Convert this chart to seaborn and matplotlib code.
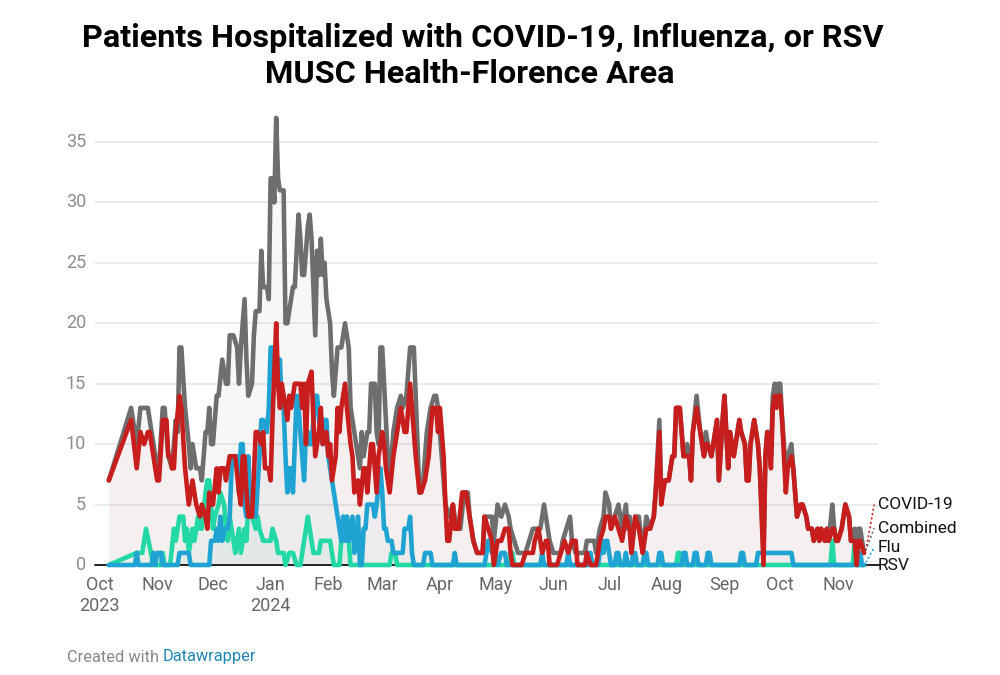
import numpy as np
import pandas as pd
import matplotlib
matplotlib.use("Agg")
import matplotlib.pyplot as plt
import seaborn as sns

# ---------------- data (day offset from 2023-10-01, value) ----------------
START = pd.Timestamp("2023-10-01")

combined_days = [5, 17, 20, 22, 26, 28, 30, 32, 34, 35, 37, 39, 41, 42, 43, 44, 46, 48, 49, 50, 52, 54, 55, 57, 58, 59,
                 60, 61, 63, 64, 66, 68, 69, 70, 72, 74, 75, 76, 78, 79, 80, 82, 83, 84, 86, 87, 88, 90, 91, 92, 93, 94,
                 95, 96, 97, 99, 100, 101, 102, 104, 105, 106, 107, 108, 109, 110, 112, 113, 114, 116, 117, 118, 119, 120,
                 121, 122, 124, 125, 126, 128, 130, 132, 133, 134, 135, 136, 138, 140, 141, 142, 144, 145, 146, 148, 149,
                 150, 151, 152, 154, 155, 156, 158, 160, 162, 163, 165, 167, 169, 170, 172, 174, 176, 178, 180, 181, 182,
                 184, 186, 188, 190, 192, 194, 196, 198, 199, 201, 203, 206, 207, 209, 211, 212, 214, 216, 218, 220, 221,
                 223, 225, 227, 229, 231, 233, 235, 237, 239, 240, 242, 244, 246, 248, 249, 251, 253, 254, 256, 258, 261,
                 262, 264, 266, 267, 269, 271, 272, 274, 275, 277, 279, 281, 283, 284, 285, 286, 288, 290, 292, 294, 296,
                 298, 299, 301, 302, 304, 305, 306, 308, 309, 310, 312, 313, 314, 316, 317, 318, 319, 321, 323, 325, 326,
                 327, 329, 330, 332, 333, 335, 336, 337, 338, 339, 341, 342, 344, 345, 347, 348, 349, 350, 351, 352, 354,
                 355, 357, 358, 359, 360, 361, 362, 363, 364, 365, 366, 367, 368, 369, 370, 372, 373, 374, 375, 377, 378,
                 380, 381, 383, 384, 386, 387, 388, 390, 391, 392, 394, 395, 396, 397, 399, 400, 401, 403, 404, 406, 407,
                 408, 409, 411]
combined_vals = [7, 13, 10, 13, 13, 11, 9, 8, 13, 13, 9, 8, 12, 11, 18, 18, 13, 10, 8, 10, 8, 8, 7, 11, 11, 13,
                 10, 10, 14, 14, 17, 15, 15, 19, 19, 18, 15, 18, 22, 17, 14, 15, 19, 21, 21, 26, 23, 23, 22, 32, 32, 30,
                 37, 32, 31, 31, 20, 20, 21, 23, 23, 26, 29, 27, 24, 24, 28, 29, 27, 19, 26, 24, 27, 24,
                 25, 22, 20, 16, 14, 18, 18, 20, 19, 18, 13, 12, 10, 8, 11, 9, 11, 11, 15, 15, 11,
                 10, 18, 18, 12, 9, 7, 11, 13, 14, 13, 14, 18, 18, 14, 6, 7, 11, 13, 14, 14, 13,
                 9, 5, 4, 5, 3, 3, 6, 6, 4, 2, 1, 1, 4, 4, 4, 2, 5, 4, 5, 4, 3,
                 2, 1, 1, 1, 2, 3, 3, 3, 5, 4, 2, 1, 1, 1, 2, 3, 4, 2, 1, 1, 1,
                 2, 2, 2, 1, 3, 4, 6, 5, 3, 4, 5, 3, 5, 3, 4, 1, 4, 4, 1, 4, 3,
                 4, 6, 12, 6, 7, 7, 7, 9, 9, 13, 13, 11, 9, 10, 9, 7, 11, 14, 11, 9, 11,
                 10, 9, 10, 12, 7, 12, 14, 11, 8, 11, 9, 10, 12, 11, 10, 7, 7, 10, 11, 12, 10,
                 8, 1, 9, 11, 11, 9, 14, 15, 14, 15, 15, 12, 10, 7, 9, 10, 8, 6, 4, 5, 5,
                 4, 3, 3, 2, 3, 2, 3, 2, 3, 2, 5, 3, 2, 2, 3, 4, 5, 4, 2, 3, 2,
                 3, 3, 1]

covid_days = [5, 17, 20, 22, 24, 26, 27, 29, 31, 32, 34, 36, 37, 38, 39, 40, 41, 43, 44, 46, 48, 49, 50, 52, 54, 55,
              57, 58, 59, 60, 61, 63, 64, 65, 67, 68, 69, 70, 72, 73, 75, 76, 77, 78, 79, 80, 82, 84, 85, 87, 88, 89,
              91, 92, 93, 95, 96, 97, 98, 99, 101, 102, 103, 104, 105, 107, 108, 109, 110, 111, 112, 114, 115, 116, 118,
              119, 120, 122, 123, 124, 125, 127, 128, 129, 130, 132, 133, 135, 136, 137, 139, 140, 142, 143, 144, 146,
              147, 149, 150, 152, 153, 154, 156, 158, 160, 162, 164, 165, 166, 167, 168, 170, 172, 173, 175, 177, 179,
              181, 182, 183, 185, 186, 187, 188, 190, 191, 193, 195, 197, 199, 201, 203, 206, 207, 209, 211, 212, 214,
              216, 218, 220, 221, 222, 224, 227, 229, 231, 233, 234, 236, 237, 238, 240, 241, 242, 244, 246, 248, 250,
              252, 254, 256, 257, 261, 262, 264, 267, 269, 271, 272, 274, 275, 277, 279, 281, 283, 285, 286, 288, 290,
              292, 294, 296, 298, 299, 301, 302, 304, 305, 306, 308, 309, 310, 312, 313, 314, 316, 317, 318, 319, 321,
              323, 325, 326, 327, 329, 330, 332, 333, 335, 336, 337, 338, 339, 341, 342, 344, 345, 347, 348, 349, 350,
              351, 352, 354, 355, 357, 358, 359, 360, 361, 362, 363, 364, 365, 366, 367, 368, 369, 370, 372, 373, 374,
              375, 377, 378, 380, 381, 383, 384, 386, 387, 388, 390, 391, 392, 394, 395, 396, 397, 399, 400, 401, 403,
              404, 406, 407, 408, 409, 411]
covid_vals = [7, 12, 8, 11, 10, 11, 11, 9, 7, 7, 12, 12, 9, 9, 8, 8, 11, 14, 13, 8, 5, 6, 7, 5, 4, 5,
              4, 3, 6, 5, 5, 8, 6, 8, 8, 7, 8, 9, 9, 9, 6, 5, 9, 9, 6, 4, 4, 11, 11, 10, 11, 8,
              8, 7, 12, 20, 15, 13, 15, 14, 12, 14, 13, 14, 15, 15, 15, 13, 15, 10, 15, 16, 12, 9, 11,
              13, 10, 11, 9, 10, 7, 9, 13, 11, 13, 15, 13, 10, 9, 6, 7, 5, 8, 8, 6, 10,
              10, 6, 9, 11, 10, 8, 6, 9, 11, 13, 11, 11, 13, 15, 13, 9, 6, 6, 7, 9, 13,
              13, 11, 13, 9, 5, 2, 2, 5, 3, 3, 6, 6, 4, 2, 1, 1, 4, 3, 2, 0, 2,
              2, 3, 3, 1, 0, 0, 0, 1, 1, 1, 2, 3, 2, 1, 2, 2, 0, 0, 0, 1, 2,
              1, 2, 2, 0, 0, 1, 0, 0, 2, 3, 4, 4, 3, 4, 3, 2, 4, 3, 1, 4, 3,
              1, 3, 3, 4, 6, 11, 5, 7, 7, 7, 9, 9, 13, 13, 11, 9, 9, 9, 7, 11, 13,
              11, 9, 10, 10, 9, 10, 12, 7, 12, 14, 11, 8, 11, 9, 10, 12, 11, 10, 7, 7, 10,
              11, 12, 10, 8, 0, 9, 11, 10, 8, 13, 14, 13, 14, 14, 12, 9, 6, 8, 9, 8, 6,
              4, 5, 5, 4, 3, 3, 2, 3, 2, 3, 2, 3, 2, 3, 3, 2, 2, 3, 4, 5, 4,
              2, 2, 0, 2, 2, 1]

flu_days = [5, 19, 20, 21, 28, 29, 30, 31, 33, 34, 42, 43, 48, 49, 59, 60, 62, 63, 64, 65, 66, 67, 69, 70, 71, 72,
            74, 75, 76, 77, 78, 79, 80, 81, 82, 83, 84, 86, 87, 88, 90, 91, 92, 93, 94, 95, 96, 97, 98, 99, 100, 101,
            102, 103, 104, 106, 107, 108, 109, 110, 111, 112, 113, 114, 116, 117, 118, 119, 120, 121, 122, 123, 124,
            125, 126, 127, 128, 129, 130, 131, 132, 133, 134, 135, 136, 137, 138, 139, 140, 141, 142, 143, 144, 145,
            147, 148, 149, 151, 152, 153, 154, 155, 157, 158, 163, 164, 166, 167, 168, 169, 174, 175, 178, 179, 190,
            191, 192, 207, 208, 209, 210, 211, 212, 213, 214, 216, 218, 219, 237, 238, 239, 251, 252, 253, 262, 263,
            264, 265, 268, 269, 270, 271, 272, 273, 274, 275, 277, 278, 279, 280, 282, 283, 284, 286, 287, 288, 289,
            292, 293, 294, 295, 300, 301, 302, 303, 313, 314, 315, 316, 319, 320, 321, 322, 326, 327, 328, 329, 344,
            345, 346, 347, 353, 354, 372, 373, 408, 409, 410, 411]
flu_vals = [0, 0, 1, 0, 0, 1, 0, 1, 1, 0, 0, 1, 1, 0, 0, 2, 2, 3, 2, 4, 2, 3, 3, 4, 8, 9,
            9, 6, 10, 10, 5, 4, 9, 5, 4, 6, 4, 9, 12, 12, 11, 13, 18, 18, 15, 15, 17, 17, 13, 13, 9, 6,
            8, 8, 6, 14, 13, 11, 9, 7, 11, 11, 10, 10, 14, 14, 12, 11, 10, 12, 12, 9, 8,
            7, 6, 5, 4, 3, 2, 4, 2, 4, 2, 3, 4, 1, 2, 4, 0, 0, 3, 3, 5, 5,
            5, 4, 5, 8, 6, 3, 3, 2, 2, 1, 1, 3, 3, 4, 1, 0, 0, 1, 1, 0, 0,
            1, 0, 0, 1, 2, 2, 1, 2, 1, 0, 1, 1, 0, 0, 1, 0, 0, 1, 0, 0, 1,
            1, 0, 0, 1, 2, 1, 2, 2, 1, 0, 0, 1, 1, 0, 0, 1, 0, 0, 1, 1, 0,
            0, 1, 1, 0, 0, 1, 1, 0, 0, 1, 1, 0, 0, 1, 1, 0, 0, 1, 1, 0, 0,
            1, 1, 0, 0, 1, 1, 0, 0, 1, 0, 0]

rsv_days = [5, 20, 23, 25, 29, 33, 34, 35, 38, 40, 41, 43, 45, 46, 47, 48, 50, 51, 53, 54, 55, 57, 58, 59, 61, 62,
            64, 65, 67, 68, 69, 70, 72, 73, 75, 76, 78, 79, 80, 82, 84, 85, 86, 88, 92, 93, 95, 96, 99, 100, 102, 104,
            106, 108, 110, 112, 113, 115, 118, 119, 124, 125, 126, 129, 131, 132, 133, 135, 156, 157, 159, 160, 220,
            221, 222, 223, 310, 311, 312, 313, 393, 394, 395, 405, 406, 407, 411]
rsv_vals = [0, 1, 1, 3, 0, 0, 1, 0, 0, 3, 2, 4, 4, 2, 3, 1, 3, 2, 4, 3, 3, 6, 7, 7, 3, 4,
            5, 6, 5, 3, 2, 4, 2, 1, 3, 1, 3, 2, 5, 4, 3, 4, 3, 2, 2, 3, 2, 1, 1, 0, 1, 1,
            0, 0, 2, 4, 3, 1, 1, 2, 2, 1, 0, 0, 4, 2, 4, 0, 0, 1, 1, 0, 0,
            1, 1, 0, 0, 1, 1, 0, 0, 2, 0, 0, 2, 0, 0]

month_labels = ["Oct\n2023", "Nov", "Dec", "Jan\n2024", "Feb", "Mar", "Apr", "May", "Jun", "Jul", "Aug", "Sep",
                "Oct", "Nov"]
y_ticks = [0, 5, 10, 15, 20, 25, 30, 35]
series_names = ["Combined", "RSV", "Flu", "COVID-19"]
series_colors = {"Combined": "#6e6e6e", "RSV": "#22d8a4", "Flu": "#1ea3d2", "COVID-19": "#c71e1d"}


def to_df(name, days, vals):
    return pd.DataFrame({"date": START + pd.to_timedelta(days, unit="D"), "value": vals, "series": name})


df = pd.concat([
    to_df("Combined", combined_days, combined_vals),
    to_df("RSV", rsv_days, rsv_vals),
    to_df("Flu", flu_days, flu_vals),
    to_df("COVID-19", covid_days, covid_vals),
], ignore_index=True)

# ---------------- style ----------------
sns.set_theme(style="white")
plt.rcParams["font.family"] = ["Roboto", "DejaVu Sans"]

W, H = 1000, 675
fig = plt.figure(figsize=(10, 6.75), dpi=100)
px_per_day = 1.86
x0_px = 99.5          # pixel of 2023-10-01
left_px, right_px = 95, 878
ax_top_px, ax_bot_px = 110, 572
zero_px, px_per_unit = 565, 12.086
ax = fig.add_axes([left_px / W, 1 - ax_bot_px / H, (right_px - left_px) / W,
                   (ax_bot_px - ax_top_px) / H])


def d(day):
    return START + pd.Timedelta(days=day)


def px2day(px):
    return (px - x0_px) / px_per_day


ax.set_xlim(d(px2day(left_px)), d(px2day(right_px)))
ax.set_ylim(-(ax_bot_px - zero_px) / px_per_unit, (zero_px - ax_top_px) / px_per_unit)

# gridlines
for yv in y_ticks[1:]:
    ax.plot([d(px2day(95)), d(px2day(878))], [yv, yv], color="#e6e6e6", lw=1.1, zorder=0, clip_on=False)

# area fills
fills = {"Combined": 0.05, "RSV": 0.05, "Flu": 0.04, "COVID-19": 0.035}
for name in series_names:
    sub = df[df.series == name]
    ax.fill_between(sub["date"], 0, sub["value"], color=series_colors[name], alpha=fills[name], lw=0, zorder=1)

# lines
for i, name in enumerate(series_names):
    sub = df[df.series == name]
    sns.lineplot(data=sub, x="date", y="value", color=series_colors[name], lw=3.3, ax=ax,
                 legend=False, zorder=3 + i, solid_joinstyle="round", solid_capstyle="round")

# baseline
ax.plot([d(px2day(95)), d(px2day(880))], [0, 0], color="#222222", lw=1.4, zorder=2.5, clip_on=False)

for s in ax.spines.values():
    s.set_visible(False)
ax.set_xlabel("")
ax.set_ylabel("")

# x ticks
month_starts = pd.date_range("2023-10-01", periods=len(month_labels), freq="MS")
ax.set_xticks(month_starts)
ax.set_xticklabels(month_labels, fontsize=13, color="#666666", linespacing=1.2)
ax.tick_params(axis="x", length=0, pad=3)
for lab in ax.get_xticklabels():
    lab.set_verticalalignment("top")

# y tick labels placed explicitly (right-aligned at x = 86 px)
ax.set_yticks([])
for yv in y_ticks:
    ypx = zero_px - yv * px_per_unit
    fig.text(86 / W, 1 - ypx / H, str(yv), fontsize=13, color="#8c8c8c", ha="right", va="center")

# end labels with dotted connectors
label_x = d(px2day(878))
end_labels = [("COVID-19", 5.0, 1.0), ("Combined", 3.05, 1.0), ("Flu", 1.45, 0.0), ("RSV", 0.0, 0.0)]
for name, ly, ey in end_labels:
    ax.text(label_x, ly, name, fontsize=12.5, color="#111111", va="center", ha="left", clip_on=False)
    if name != "RSV":
        ax.plot([d(412), d(416.5)], [ey + 0.2, ly], color=series_colors[name],
                lw=1.2, ls=(0, (1.2, 1.5)), clip_on=False, zorder=2)

# titles
fig.text(0.483, 1 - 38 / H, "Patients Hospitalized with COVID-19, Influenza, or RSV", fontsize=23.3,
         fontweight="bold", ha="center", va="center", color="#000000")
fig.text(0.470, 1 - 74 / H, "MUSC Health-Florence Area", fontsize=23.3, fontweight="bold", ha="center",
         va="center", color="#000000")

# credit
t1 = fig.text(67 / W, 1 - 657 / H, "Created with ", fontsize=11.8, color="#888888", ha="left", va="center")
fig.canvas.draw()
bb = t1.get_window_extent()
fig.text(bb.x1 / W, 1 - 657 / H, "Datawrapper", fontsize=11.8, color="#1f86b4", ha="left", va="center")

fig.savefig("out.png", dpi=100, facecolor="white")
